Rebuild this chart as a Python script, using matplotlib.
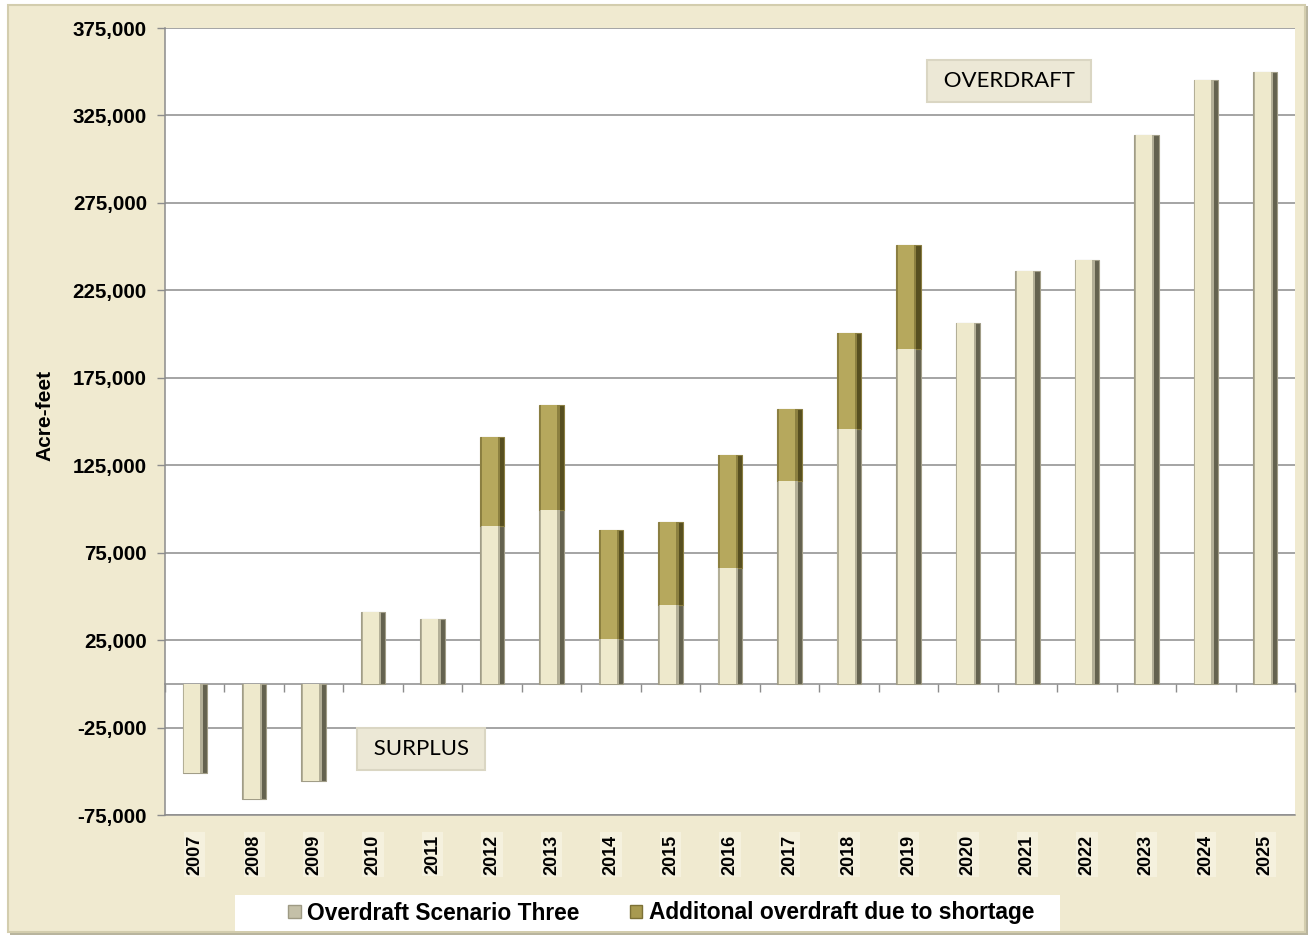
import matplotlib
matplotlib.use("Agg")
import matplotlib.pyplot as plt
import numpy as np
from matplotlib.patches import Rectangle, Patch

years = ["2007", "2008", "2009", "2010", "2011", "2012", "2013", "2014", "2015", "2016",
         "2017", "2018", "2019", "2020", "2021", "2022", "2023", "2024", "2025"]
scenario_three = [-51000, -66000, -55300, 41000, 37000, 90200, 99200, 25800, 45000, 66000,
                  116000, 145500, 191200, 206400, 235900, 242500, 313600, 345400, 349600]
additional_shortage = [0, 0, 0, 0, 0, 51000, 60000, 62000, 47500, 64600,
                       41000, 55200, 59500, 0, 0, 0, 0, 0, 0]
y_ticks = [-75000, -25000, 25000, 75000, 125000, 175000, 225000, 275000, 325000, 375000]
series_names = ["Overdraft Scenario Three", "Additonal overdraft due to shortage"]

plt.rcParams['font.family'] = ['Liberation Sans', 'DejaVu Sans']

W, H = 1314, 939
fig = plt.figure(figsize=(W / 100, H / 100), dpi=100)
fig.patch.set_facecolor('#FFFFFF')

# outer beige frame
fig.add_artist(Rectangle((10 / W, 1 - 935 / H), 1298 / W, 929 / H, transform=fig.transFigure,
                         facecolor='#B8B49E', edgecolor='none', zorder=-10))
fig.add_artist(Rectangle((8 / W, 1 - 932 / H), 1297 / W, 927 / H, transform=fig.transFigure,
                         facecolor='#F0EAD0', edgecolor='#D3CDAE', linewidth=1.5, zorder=-9))
# legend white area
fig.add_artist(Rectangle((235 / W, 1 - 931 / H), 825 / W, 36 / H, transform=fig.transFigure,
                         facecolor='white', edgecolor='none', zorder=-8))

ax = fig.add_axes([165 / W, 1 - 815 / H, 1130 / W, 787 / H])
ax.set_facecolor('white')
x = np.arange(len(years))

scen = np.array(scenario_three, dtype=float)
addl = np.array(additional_shortage, dtype=float)

# bevel-like layered bars
def layered(xpos, vals, bottom, colors):
    ax.bar(xpos, vals, width=0.41, bottom=bottom, color=colors[0], edgecolor=colors[3],
           linewidth=0.8, zorder=3)
    ax.bar(xpos - 0.03, vals, width=0.33, bottom=bottom, color=colors[1], edgecolor='none', zorder=4)
    ax.bar(xpos - 0.04, vals, width=0.27, bottom=bottom, color=colors[2], edgecolor='none', zorder=5)

beige = ['#64624F', '#B3AF97', '#EEE9CC', '#A19D87']
gold = ['#574F20', '#8C8040', '#B6A85D', '#8A7E42']
layered(x, scen, 0, beige)
mask = addl > 0
layered(x[mask], addl[mask], scen[mask], gold)

ax.set_xlim(-0.5, len(years) - 0.5)
ax.set_ylim(-75000, 375000)
ax.set_yticks(y_ticks)
ax.set_yticklabels([f"{v:,}" for v in y_ticks], fontsize=14.8, fontweight='bold')
ax.yaxis.grid(True, color='#8C8C8C', linewidth=1.1, zorder=0)
ax.set_axisbelow(True)
ax.tick_params(axis='y', length=6, width=1, color='#8C8C8C', pad=7)

ax.set_xticks(x)
ax.set_xticklabels(years, rotation=90, fontsize=13, fontweight='bold')
ax.tick_params(axis='x', length=0, pad=14)
for lbl in ax.get_xticklabels():
    lbl.set_bbox(dict(facecolor='#F5F1DE', edgecolor='none', pad=1.5))

for s in ['top', 'right']:
    ax.spines[s].set_visible(False)
for s in ['left', 'bottom']:
    ax.spines[s].set_color('#8C8C8C')
    ax.spines[s].set_linewidth(1.1)

# category axis line at zero
sec = ax.secondary_xaxis(0, transform=ax.transData)
sec.set_xticks(np.arange(len(years) + 1) - 0.5)
sec.set_xticklabels([])
sec.tick_params(length=6, width=1, color='#8C8C8C', direction='out')
sec.spines['bottom'].set_color('#8C8C8C')
sec.spines['bottom'].set_linewidth(1.1)

ax.set_ylabel("Acre-feet", fontsize=15, fontweight='bold')
ax.yaxis.set_label_coords((54 - 165) / 1130, (815 - 415) / 787)

box = dict(boxstyle='square,pad=0.5', facecolor='#ECE8D6', edgecolor='#DAD6C3', linewidth=1.5)
ax.text((1009 - 165) / 1130, (815 - 81) / 787, " OVERDRAFT ", transform=ax.transAxes,
        ha='center', va='center', fontsize=16, family=['Lato', 'DejaVu Sans'], bbox=box, zorder=6)
ax.text((421 - 165) / 1130, (815 - 749) / 787, " SURPLUS ", transform=ax.transAxes,
        ha='center', va='center', fontsize=16, family=['Lato', 'DejaVu Sans'], bbox=box, zorder=6)

handles = [Patch(facecolor='#C4C0A8', edgecolor='#9E9A84'), Patch(facecolor='#A89A50', edgecolor='#7C7136')]
leg = fig.legend(handles, series_names, loc='center left', bbox_to_anchor=(288 / W, 1 - 913 / H), ncol=2,
                 frameon=False, prop={'weight': 'bold', 'size': 16.4}, handlelength=0.55, handleheight=0.55,
                 handletextpad=0.3, columnspacing=2.2, borderpad=0, borderaxespad=0)

fig.savefig("out.png", dpi=100, facecolor=fig.get_facecolor())
